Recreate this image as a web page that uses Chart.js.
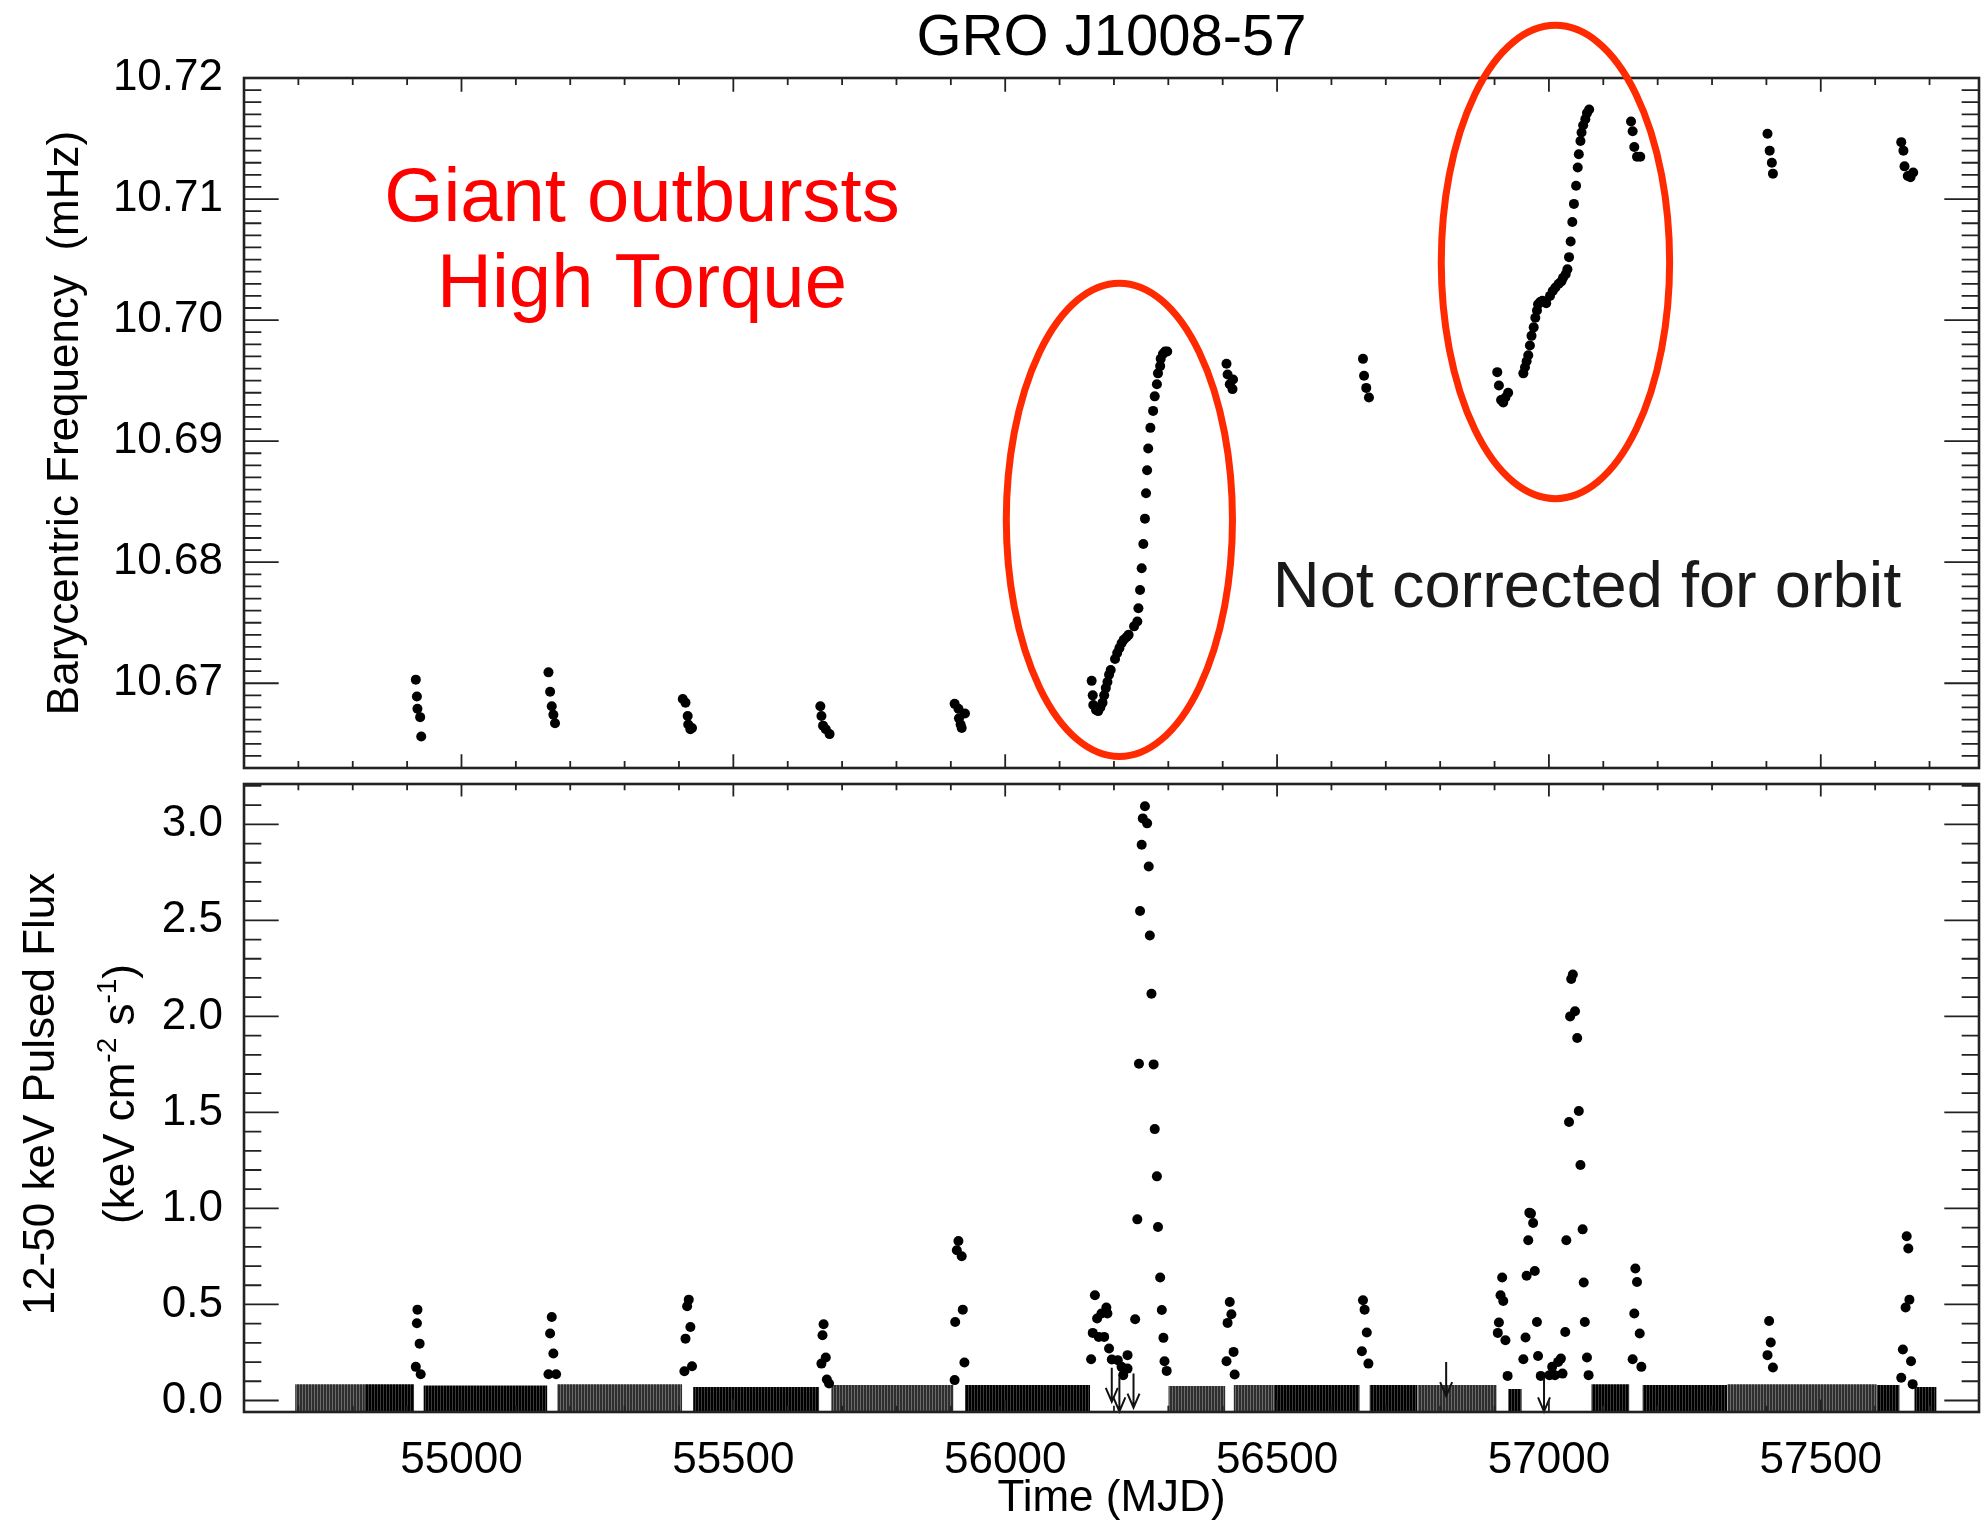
<!DOCTYPE html>
<html>
<head>
<meta charset="utf-8">
<title>GRO J1008-57</title>
<script src="https://cdn.jsdelivr.net/npm/chart.js@4.4.0/dist/chart.umd.min.js"></script>
<style>
    html, body { margin: 0; padding: 0; background: #fff; }
    #wrap { position: relative; width: 1981px; height: 1525px; }
    canvas { position: absolute; left: 0; }
    #freq-chart { top: 0; }
    #flux-chart { top: 776px; }
</style>
</head>
<body>
<div id="wrap">
    <canvas id="freq-chart" width="1981" height="776"></canvas>
    <canvas id="flux-chart" width="1981" height="749"></canvas>
</div>
<script>
// ---- barycentric frequency (top panel) ----
const freqMjd = [
    54916, 54918, 54919, 54924, 54926,
    55160, 55163, 55166, 55169, 55172,
    55407, 55412, 55416, 55417, 55421, 55424,
    55660, 55662, 55665, 55670, 55677,
    55907, 55914, 55926, 55915, 55918, 55920,
    56159, 56161, 56162, 56167, 56171, 56175, 56179, 56182, 56185, 56188,
    56191, 56194, 56202, 56206, 56210, 56214, 56218, 56223, 56227, 56237,
    56243, 56245, 56248, 56251, 56254, 56257, 56259, 56261, 56263, 56267,
    56272, 56275, 56279, 56281, 56285, 56286, 56290, 56294, 56298,
    56407, 56409, 56419, 56413, 56418,
    56658, 56660, 56664, 56669,
    56905, 56908, 56912, 56916, 56920, 56925,
    56953, 56956, 56959, 56962, 56965, 56968, 56972, 56975, 56978, 56980,
    56984, 56988, 56995, 57002, 57007, 57012, 57018, 57023, 57026, 57031,
    57034, 57037, 57040, 57043, 57046, 57050, 57053, 57055, 57058, 57060,
    57063, 57067, 57070, 57074,
    57151, 57154, 57157, 57162, 57168,
    57402, 57406, 57410, 57412,
    57648, 57652, 57654, 57660, 57665, 57670
];
const freqMhz = [
    10.6703, 10.6689, 10.6679, 10.6672, 10.6656,
    10.6709, 10.6693, 10.6681, 10.6674, 10.6667,
    10.6687, 10.6684, 10.6673, 10.6666, 10.6662, 10.6663,
    10.6681, 10.6673, 10.6665, 10.6662, 10.6658,
    10.6683, 10.6679, 10.6675, 10.6671, 10.6666, 10.6663,
    10.6702, 10.6690, 10.6682, 10.6678, 10.6677, 10.6680, 10.6684, 10.6690, 10.6696, 10.6701,
    10.6707, 10.6711, 10.6720, 10.6725, 10.6729, 10.6733, 10.6736, 10.6738, 10.6740, 10.6747,
    10.6751, 10.6762, 10.6777, 10.6795, 10.6815, 10.6836, 10.6857, 10.6876, 10.6894, 10.6911,
    10.6925, 10.6937, 10.6947, 10.6956, 10.6962, 10.6968, 10.6972, 10.6974, 10.6974,
    10.6964, 10.6955, 10.6951, 10.6947, 10.6943,
    10.6968, 10.6954, 10.6944, 10.6936,
    10.6957, 10.6946, 10.6934, 10.6932, 10.6936, 10.6940,
    10.6956, 10.6961, 10.6966, 10.6971, 10.6979, 10.6987, 10.6994, 10.7002, 10.7008, 10.7013,
    10.7015, 10.7016, 10.7014, 10.7020, 10.7024, 10.7027, 10.7030, 10.7032, 10.7035, 10.7038,
    10.7042, 10.7052, 10.7065, 10.7081, 10.7096, 10.7111, 10.7126, 10.7137, 10.7148, 10.7155,
    10.7161, 10.7166, 10.7171, 10.7174,
    10.7164, 10.7156, 10.7143, 10.7135, 10.7135,
    10.7154, 10.7140, 10.7130, 10.7121,
    10.7147, 10.7140, 10.7127, 10.7119, 10.7118, 10.7122
];

// ---- 12-50 keV pulsed flux (bottom panel) ----
const fluxMjd = [
    54919, 54918, 54923, 54916, 54925,
    55166, 55163, 55169, 55160, 55174,
    55418, 55415, 55421, 55412, 55424, 55410,
    55666, 55664, 55670, 55662, 55672, 55676,
    55914, 55911, 55920, 55922, 55908, 55925, 55907,
    56158, 56161, 56165, 56169, 56172, 56177, 56182, 56186, 56188, 56191,
    56196, 56207, 56214, 56217, 56225, 56225,
    56239, 56243, 56246, 56248, 56251, 56253, 56257, 56261, 56264, 56266,
    56269, 56273, 56275, 56279, 56281, 56285, 56288, 56291, 56293, 56297,
    56407, 56409, 56413, 56416, 56420, 56422,
    56656, 56658, 56661, 56665, 56668,
    56906, 56908, 56911, 56914, 56916, 56920, 56924,
    56953, 56957, 56959, 56962, 56964, 56967, 56971, 56974, 56978, 56980, 56985,
    57001, 57006, 57011, 57017, 57022, 57025, 57030, 57032, 57037, 57039,
    57041, 57044, 57048, 57052, 57055, 57058, 57062, 57064, 57066, 57070, 57073,
    57154, 57157, 57159, 57162, 57167, 57170,
    57402, 57405, 57408, 57412,
    57648, 57651, 57656, 57658, 57661, 57663, 57666, 57669
];
const fluxVal = [
    0.473, 0.402, 0.296, 0.175, 0.137,
    0.435, 0.349, 0.245, 0.137, 0.137,
    0.525, 0.491, 0.383, 0.322, 0.178, 0.152,
    0.397, 0.340, 0.224, 0.192, 0.109, 0.088,
    0.830, 0.782, 0.751, 0.473, 0.409, 0.198, 0.106,
    0.215, 0.352, 0.548, 0.427, 0.331, 0.453, 0.331, 0.484, 0.453, 0.271,
    0.213, 0.210, 0.175, 0.132, 0.236, 0.166,
    0.423, 0.943, 1.753, 2.549, 2.894, 3.031, 3.094, 3.005, 2.780, 2.421,
    2.118, 1.750, 1.413, 1.167, 0.903, 0.640, 0.471, 0.326, 0.204, 0.154,
    0.204, 0.404, 0.513, 0.449, 0.253, 0.135,
    0.256, 0.522, 0.473, 0.354, 0.192,
    0.352, 0.406, 0.548, 0.640, 0.518, 0.314, 0.128,
    0.215, 0.328, 0.649, 0.834, 0.978, 0.973, 0.924, 0.674, 0.409, 0.232, 0.128,
    0.132, 0.175, 0.132, 0.201, 0.218, 0.140, 0.357, 0.834, 1.450, 2.000,
    2.195, 2.218, 2.027, 1.887, 1.507, 1.226, 0.891, 0.614, 0.409, 0.224, 0.132,
    0.215, 0.453, 0.687, 0.617, 0.349, 0.175,
    0.236, 0.414, 0.302, 0.172,
    0.118, 0.265, 0.484, 0.855, 0.791, 0.525, 0.204, 0.085
];

// upper limits (down arrows) in the outburst gaps
const limitMjd = [56196, 56210, 56236, 56811, 56991];
const limitVal = [0.17, 0.12, 0.14, 0.20, 0.12];

// daily monitoring light curve: dense band near zero (start, end, upper level, shade)
const grassStart = [54694, 54821, 54930, 55176, 55426, 55680, 55926, 56300, 56420, 56494, 56670, 56758, 56925, 57078, 57172, 57328, 57603, 57672];
const grassEnd   = [54821, 54913, 55158, 55406, 55658, 55905, 56156, 56405, 56494, 56652, 56758, 56904, 56950, 57148, 57328, 57603, 57645, 57713];
const grassTop   = [0.085, 0.085, 0.078, 0.085, 0.070, 0.080, 0.080, 0.075, 0.080, 0.080, 0.080, 0.080, 0.060, 0.085, 0.080, 0.085, 0.080, 0.070];
const grassShade = ['gray', 'black', 'black', 'gray', 'black', 'gray', 'black', 'gray', 'gray', 'black', 'black', 'gray', 'black', 'black', 'black', 'gray', 'black', 'black'];

// ticks
const mjdTicks = [55000, 55500, 56000, 56500, 57000, 57500];
const freqTicks = [10.67, 10.68, 10.69, 10.70, 10.71, 10.72];
const fluxTicks = [0.0, 0.5, 1.0, 1.5, 2.0, 2.5, 3.0];

const chartTitle = 'GRO J1008-57';
const freqAxisTitle = 'Barycentric Frequency  (mHz)';
const fluxAxisTitle = '12-50 keV Pulsed Flux';
const timeAxisTitle = 'Time (MJD)';

// notes drawn on the top panel, placed in data coordinates
const outburstEllipses = [
    {mjd: 56210, freq: 10.6835, halfDays: 208, halfFreq: 0.01955},
    {mjd: 57012, freq: 10.7048, halfDays: 210, halfFreq: 0.01955}
];
const redNotes = [
    {text: 'Giant outbursts', mjd: 55332, freq: 10.7082},
    {text: 'High Torque', mjd: 55332, freq: 10.7011}
];
const orbitNote = {text: 'Not corrected for orbit', mjd: 57070, freq: 10.6763};

const FONT = "'Liberation Sans', Arial, Helvetica, sans-serif";
const MJD_MIN = 54600;
const MJD_MAX = 57791;
const RED = '#ff2a00';


function tickValues(min, max, step) {
    const out = [];
    for (let i = Math.ceil(min / step - 1e-6); i * step <= max + 1e-9; i++) {
        out.push(i * step);
    }
    return out;
}

function isMajor(v, major) {
    const r = v / major;
    return Math.abs(r - Math.round(r)) < 1e-6;
}

function fixedTicks(values) {
    return function (scale) {
        scale.ticks = values.map(v => ({value: v}));
    };
}

// thin vertical stripes so the dense daily band is not a flat block
function stripePattern(dark, light) {
    const c = document.createElement('canvas');
    c.width = 3;
    c.height = 1;
    const g = c.getContext('2d');
    g.fillStyle = dark;
    g.fillRect(0, 0, 2, 1);
    g.fillStyle = light;
    g.fillRect(2, 0, 1, 1);
    return g.createPattern(c, 'repeat');
}

// IDL style box: frame on all sides, ticks pointing inwards
const framePlugin = {
    id: 'frame',
    afterDraw(chart, args, o) {
        const ctx = chart.ctx;
        const a = chart.chartArea;
        const xs = chart.scales.x;
        const ys = chart.scales.y;
        const w = a.right - a.left;
        const h = a.bottom - a.top;

        ctx.save();
        ctx.strokeStyle = '#222';
        ctx.lineWidth = 1.8;
        ctx.beginPath();
        tickValues(xs.min, xs.max, o.xMinor).forEach(v => {
            const px = xs.getPixelForValue(v);
            const len = isMajor(v, o.xMajor) ? 0.02 * h : 0.01 * h;
            ctx.moveTo(px, a.bottom);
            ctx.lineTo(px, a.bottom - len);
            ctx.moveTo(px, a.top);
            ctx.lineTo(px, a.top + len);
        });
        tickValues(ys.min, ys.max, o.yMinor).forEach(v => {
            const py = ys.getPixelForValue(v);
            const len = isMajor(v, o.yMajor) ? 0.02 * w : 0.01 * w;
            ctx.moveTo(a.left, py);
            ctx.lineTo(a.left + len, py);
            ctx.moveTo(a.right, py);
            ctx.lineTo(a.right - len, py);
        });
        ctx.stroke();

        ctx.lineWidth = 2.6;
        ctx.strokeRect(a.left, a.top, w, h);
        ctx.restore();
    }
};

function drawRotated(ctx, x, y, fn) {
    ctx.save();
    ctx.translate(x, y);
    ctx.rotate(-Math.PI / 2);
    fn();
    ctx.restore();
}

const topNotesPlugin = {
    id: 'topNotes',
    afterDraw(chart) {
        const ctx = chart.ctx;
        const a = chart.chartArea;
        const xs = chart.scales.x;
        const ys = chart.scales.y;

        ctx.save();
        ctx.fillStyle = '#000';
        ctx.textBaseline = 'alphabetic';
        ctx.textAlign = 'center';

        ctx.font = '58px ' + FONT;
        ctx.fillText(chartTitle, (a.left + a.right) / 2, 55);

        ctx.font = '44px ' + FONT;
        drawRotated(ctx, 78, (a.top + a.bottom) / 2, () => {
            ctx.fillText(freqAxisTitle, 0, 0);
        });

        ctx.strokeStyle = RED;
        ctx.lineWidth = 7;
        outburstEllipses.forEach(e => {
            const cx = xs.getPixelForValue(e.mjd);
            const cy = ys.getPixelForValue(e.freq);
            const rx = xs.getPixelForValue(e.mjd + e.halfDays) - cx;
            const ry = cy - ys.getPixelForValue(e.freq + e.halfFreq);
            ctx.beginPath();
            ctx.ellipse(cx, cy, rx, ry, 0, 0, Math.PI * 2);
            ctx.stroke();
        });

        ctx.fillStyle = '#ff0000';
        ctx.font = '76px ' + FONT;
        redNotes.forEach(n => {
            ctx.fillText(n.text, xs.getPixelForValue(n.mjd), ys.getPixelForValue(n.freq));
        });

        ctx.fillStyle = '#1a1a1a';
        ctx.font = '65px ' + FONT;
        ctx.fillText(orbitNote.text, xs.getPixelForValue(orbitNote.mjd), ys.getPixelForValue(orbitNote.freq));
        ctx.restore();
    }
};

const bottomNotesPlugin = {
    id: 'bottomNotes',
    afterDatasetsDraw(chart) {
        // upper limit arrows
        const ctx = chart.ctx;
        const xs = chart.scales.x;
        const ys = chart.scales.y;
        ctx.save();
        ctx.strokeStyle = '#111';
        ctx.lineWidth = 2;
        limitMjd.forEach((m, i) => {
            const px = xs.getPixelForValue(m);
            const top = ys.getPixelForValue(limitVal[i]);
            const tip = top + 34;
            ctx.beginPath();
            ctx.moveTo(px, top);
            ctx.lineTo(px, tip);
            ctx.moveTo(px - 6, tip - 14);
            ctx.lineTo(px, tip);
            ctx.lineTo(px + 6, tip - 14);
            ctx.stroke();
        });
        ctx.restore();
    },
    afterDraw(chart) {
        const ctx = chart.ctx;
        const a = chart.chartArea;
        const midY = (a.top + a.bottom) / 2 - 4;

        ctx.save();
        ctx.fillStyle = '#000';
        ctx.textBaseline = 'alphabetic';
        ctx.textAlign = 'center';
        ctx.font = '44px ' + FONT;

        ctx.fillText(timeAxisTitle, (a.left + a.right) / 2, 735);

        drawRotated(ctx, 54, midY, () => {
            ctx.fillText(fluxAxisTitle, 0, 0);
        });

        // (keV cm^-2 s^-1) with raised exponents
        const parts = [
            ['(keV cm', false], ['-2', true], [' s', false], ['-1', true], [')', false]
        ];
        const widths = parts.map(p => {
            ctx.font = (p[1] ? '28px ' : '44px ') + FONT;
            return ctx.measureText(p[0]).width;
        });
        const total = widths.reduce((s, v) => s + v, 0);
        drawRotated(ctx, 134, midY, () => {
            ctx.textAlign = 'left';
            let x = -total / 2;
            parts.forEach((p, i) => {
                ctx.font = (p[1] ? '28px ' : '44px ') + FONT;
                ctx.fillText(p[0], x, p[1] ? -18 : 0);
                x += widths[i];
            });
        });
        ctx.restore();
    }
};

function grassData(shade) {
    const pts = [];
    grassStart.forEach((s, i) => {
        if (grassShade[i] !== shade) {
            return;
        }
        pts.push({x: s, y: grassTop[i]});
        pts.push({x: grassEnd[i], y: grassTop[i]});
        pts.push({x: grassEnd[i], y: null});
    });
    return pts;
}

function noScalePadding(scale) {
    scale.paddingTop = 0;
    scale.paddingBottom = 0;
    scale.paddingLeft = 0;
    scale.paddingRight = 0;
}

function yScale(min, max, ticks, digits) {
    return {
        type: 'linear',
        min: min,
        max: max,
        afterBuildTicks: fixedTicks(ticks),
        afterFit: scale => {
            scale.width = 244;
            noScalePadding(scale);
        },
        grid: {display: false},
        border: {display: false},
        ticks: {
            padding: 13,
            color: '#000',
            font: {family: FONT, size: 44},
            callback: v => Number(v).toFixed(digits)
        }
    };
}

const freqChart = new Chart(document.getElementById('freq-chart'), {
    type: 'scatter',
    data: {
        datasets: [{
            data: freqMjd.map((m, i) => ({x: m, y: freqMhz[i]})),
            backgroundColor: '#000',
            borderWidth: 0,
            pointRadius: 5,
            pointHoverRadius: 5
        }]
    },
    options: {
        responsive: false,
        animation: false,
        devicePixelRatio: 1,
        events: [],
        layout: {padding: {left: 0, right: 2, top: 78, bottom: 8}, autoPadding: false},
        plugins: {
            legend: {display: false},
            tooltip: {enabled: false},
            frame: {xMinor: 100, xMajor: 500, yMinor: 0.001, yMajor: 0.01}
        },
        scales: {
            x: {type: 'linear', min: MJD_MIN, max: MJD_MAX, display: false},
            y: yScale(10.663, 10.72, freqTicks, 2)
        }
    },
    plugins: [framePlugin, topNotesPlugin]
});

const fluxChart = new Chart(document.getElementById('flux-chart'), {
    type: 'scatter',
    data: {
        datasets: [
            {
                data: fluxMjd.map((m, i) => ({x: m, y: fluxVal[i]})),
                backgroundColor: '#000',
                borderWidth: 0,
                pointRadius: 5,
                pointHoverRadius: 5,
                order: 1
            },
            {
                type: 'line',
                data: grassData('gray'),
                showLine: true,
                spanGaps: false,
                fill: 'start',
                backgroundColor: stripePattern('#2e2e2e', '#6a6a6a'),
                borderWidth: 0,
                pointRadius: 0,
                order: 2
            },
            {
                type: 'line',
                data: grassData('black'),
                showLine: true,
                spanGaps: false,
                fill: 'start',
                backgroundColor: stripePattern('#000000', '#3a3a3a'),
                borderWidth: 0,
                pointRadius: 0,
                order: 2
            }
        ]
    },
    options: {
        responsive: false,
        animation: false,
        devicePixelRatio: 1,
        events: [],
        layout: {padding: {left: 0, right: 2, top: 8, bottom: 0}, autoPadding: false},
        plugins: {
            legend: {display: false},
            tooltip: {enabled: false},
            frame: {xMinor: 100, xMajor: 500, yMinor: 0.1, yMajor: 0.5}
        },
        scales: {
            x: {
                type: 'linear',
                min: MJD_MIN,
                max: MJD_MAX,
                afterBuildTicks: fixedTicks(mjdTicks),
                afterFit: scale => {
                    scale.height = 113;
                    noScalePadding(scale);
                },
                grid: {display: false},
                border: {display: false},
                ticks: {
                    padding: 14,
                    maxRotation: 0,
                    autoSkip: false,
                    color: '#000',
                    font: {family: FONT, size: 44},
                    callback: v => String(v)
                }
            },
            y: yScale(-0.06, 3.21, fluxTicks, 1)
        }
    },
    plugins: [framePlugin, bottomNotesPlugin]
});
</script>
</body>
</html>
